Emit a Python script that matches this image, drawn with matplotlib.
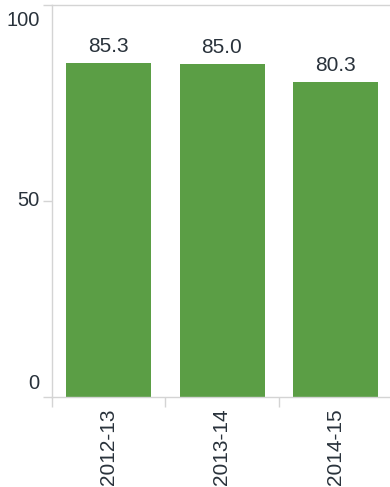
import matplotlib
matplotlib.use('Agg')
import matplotlib.pyplot as plt
import matplotlib.transforms as mtransforms

years = ['2012-13', '2013-14', '2014-15']
values = [85.3, 85.0, 80.3]
y_ticks = [0, 50, 100]

bar_color = '#5b9e45'
axis_color = '#d4d4d4'
text_color = '#29323b'

plt.rcParams['font.family'] = ['Liberation Sans', 'DejaVu Sans']

fig = plt.figure(figsize=(3.9, 4.87), dpi=100)
ax = fig.add_axes([52 / 390, 90 / 487, 340 / 390, 392 / 487])

x = range(len(years))
ax.bar(x, values, width=0.75, color=bar_color, zorder=2)
ax.set_xlim(-0.5, len(years) - 0.5)
ax.set_ylim(0, 100)

ax.spines['right'].set_visible(False)
for spine in ['left', 'top', 'bottom']:
    ax.spines[spine].set_color(axis_color)
    ax.spines[spine].set_linewidth(1.0)

# value labels above bars
for i, v in enumerate(values):
    ax.annotate(f'{v:.1f}', (i, v), xytext=(0, 8), textcoords='offset points',
                ha='center', va='baseline', fontsize=15, color=text_color)

# y axis: ticks plus flush labels drawn as text
ax.set_yticks(y_ticks)
ax.set_yticklabels([])
ax.tick_params(axis='y', length=6.5, width=1.0, color=axis_color)
ytrans = mtransforms.blended_transform_factory(ax.transAxes, ax.transData)
for t in y_ticks:
    if t == y_ticks[-1]:
        va, dy = 'top', -4
    elif t == y_ticks[0]:
        va, dy = 'bottom', 3
    else:
        va, dy = 'center', 0
    off = mtransforms.offset_copy(ytrans, fig=fig, x=-9, y=dy, units='points')
    ax.text(0, t, str(t), transform=off, ha='right', va=va,
            fontsize=14.5, color=text_color)

# x axis: tick marks between bands, labels rotated
ax.set_xticks(x)
ax.set_xticklabels(years, rotation=90, fontsize=15, color=text_color)
ax.tick_params(axis='x', length=0, pad=8)
ax.set_xticks([i - 0.5 for i in range(len(years) + 1)], minor=True)
ax.tick_params(axis='x', which='minor', length=7.2, width=1.0, color=axis_color)

fig.savefig('out.png', dpi=100)
